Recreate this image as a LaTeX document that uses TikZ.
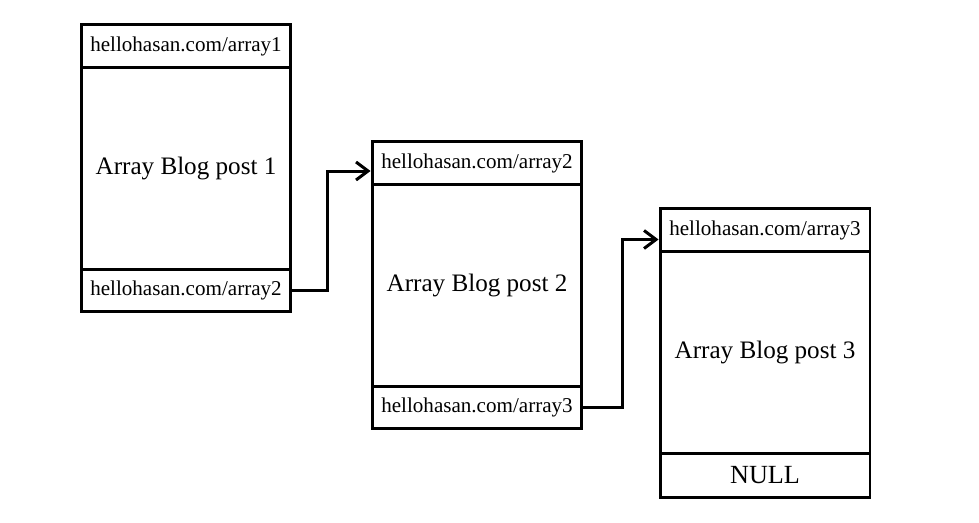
\documentclass[tikz,border=0pt]{standalone}
\usepackage{fontspec}
\setmainfont{Liberation Serif}
\usetikzlibrary{arrows.meta,positioning}
\tikzset{
  cell/.style={draw, line width=1.7pt, minimum width=4.2cm, inner sep=0pt,
    font=\fontsize{12}{14}\selectfont},
  urlcell/.style={cell, minimum height=0.85cm},
  postcell/.style={cell, minimum height=4.04cm, font=\fontsize{14.3}{17}\selectfont},
  nullcell/.style={cell, minimum height=0.88cm, font=\fontsize{14.9}{17}\selectfont},
  link/.style={-{Straight Barb[length=2.4mm, width=3.6mm, line width=1.7pt]}, line width=1.7pt},
}
\begin{document}
\begin{tikzpicture}[x=0.02cm, y=-0.02cm, node distance=-1.7pt]
    \useasboundingbox (0,0) rectangle (979,522);
    % --- post 1 ---
    \node[urlcell] (h1) at (186,46) {hellohasan.com/array1};
    \node[postcell, below=of h1] (b1) {Array Blog post 1};
    \node[urlcell, below=of b1] (f1) {hellohasan.com/array2};
    % --- post 2 ---
    \node[urlcell] (h2) at (477,163) {hellohasan.com/array2};
    \node[postcell, below=of h2] (b2) {Array Blog post 2};
    \node[urlcell, below=of b2] (f2) {hellohasan.com/array3};
    % --- post 3 ---
    \node[urlcell] (h3) at (765,230) {hellohasan.com/array3};
    \node[postcell, below=of h3] (b3) {Array Blog post 3};
    \node[nullcell, below=of b3] (f3) {NULL};
    % --- links ---
    \draw[link] (f1.east) -- ++(35,0) |- ([yshift=-0.16cm]h2.west);
    \draw[link] (f2.east) -- ++(39,0) |- ([yshift=-0.19cm]h3.west);
\end{tikzpicture}
\end{document}
